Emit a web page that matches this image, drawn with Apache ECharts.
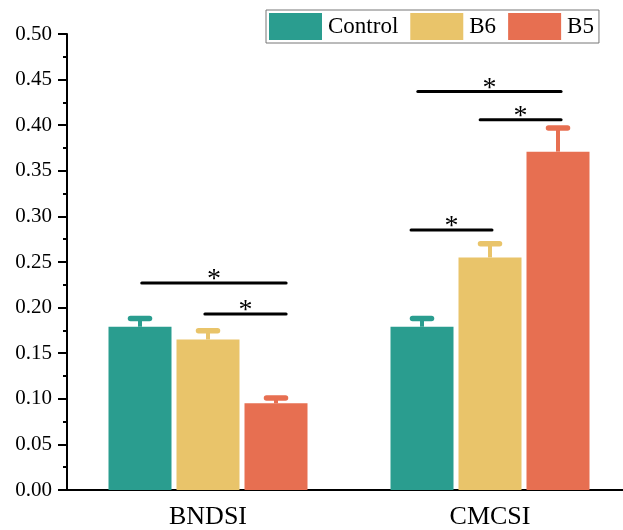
<!DOCTYPE html>
<html>
<head>
<meta charset="utf-8">
<script src="https://cdn.jsdelivr.net/npm/echarts@6/dist/echarts.min.js"></script>
<style>html,body{margin:0;padding:0;background:#fff;overflow:hidden;width:623px;height:530px;}#c{width:640px;height:530px;}</style>
</head>
<body>
<div id="c"></div>
<script>
const categories = ['BNDSI', 'CMCSI'];
const seriesNames = ['Control', 'B6', 'B5'];
const controlValues = [0.179, 0.179];
const b6Values = [0.165, 0.255];
const b5Values = [0.095, 0.371];
const controlErr = [0.009, 0.009];
const b6Err = [0.0095, 0.015];
const b5Err = [0.006, 0.026];
// significance brackets: [xStart, xEnd, y] in category-axis units (0..2)
const sigBrackets = [
  [0.265, 0.777, 0.227],
  [0.489, 0.777, 0.193],
  [1.220, 1.507, 0.285],
  [1.244, 1.752, 0.437],
  [1.465, 1.752, 0.406]
];
const sigLabel = '*';

const colors = ['#2A9D8F', '#E9C46A', '#E76F51'];
const FONT = 'Liberation Serif';
const BAR_W = 63, BAR_GAP = 5;

const values = [controlValues, b6Values, b5Values];
const errs = [controlErr, b6Err, b5Err];

const series = [];
seriesNames.forEach((name, s) => {
  series.push({
    name: name, type: 'bar', data: values[s],
    barWidth: BAR_W, barGap: (BAR_GAP / BAR_W * 100) + '%',
    itemStyle: { color: colors[s] }, z: 2
  });
});
seriesNames.forEach((name, s) => {
  const offset = (s - 1) * (BAR_W + BAR_GAP);
  series.push({
    type: 'custom', name: name + '_err', z: 3,
    data: values[s].map((v, i) => [i, v, errs[s][i]]),
    encode: { x: 0, y: 1 },
    renderItem: function (params, api) {
      const idx = api.value(0), v = api.value(1), e = api.value(2);
      const base = api.coord([idx, v]);
      const top = api.coord([idx, v + e]);
      const x = base[0] + offset;
      return {
        type: 'group', children: [
          { type: 'line', shape: { x1: x, y1: base[1], x2: x, y2: top[1] }, style: { stroke: colors[s], lineWidth: 4 } },
          { type: 'line', shape: { x1: x - 9.5, y1: top[1], x2: x + 9.5, y2: top[1] }, style: { stroke: colors[s], lineWidth: 5.5, lineCap: 'round' } }
        ]
      };
    }
  });
});
series.push({
  type: 'custom', name: 'sig', xAxisIndex: 1, z: 4,
  data: sigBrackets,
  encode: { x: [0, 1], y: 2 },
  renderItem: function (params, api) {
    const p1 = api.coord([api.value(0), api.value(2)]);
    const p2 = api.coord([api.value(1), api.value(2)]);
    return {
      type: 'group', children: [
        { type: 'line', shape: { x1: p1[0], y1: p1[1], x2: p2[0], y2: p2[1] }, style: { stroke: '#000', lineWidth: 3, lineCap: 'round' } },
        { type: 'text', x: (p1[0] + p2[0]) / 2, y: p1[1] - 3, style: { text: sigLabel, fill: '#000', font: '28px "' + FONT + '"', align: 'center', verticalAlign: 'middle' } }
      ]
    };
  }
});

const chart = echarts.init(document.getElementById('c'));
chart.setOption({
  animation: false,
  backgroundColor: '#fff',
  legend: {
    data: seriesNames, left: 266, top: 10, orient: 'horizontal',
    itemWidth: 53, itemHeight: 27, itemGap: 12,
    padding: [3, 5, 3, 3], borderColor: '#777', borderWidth: 1,
    icon: 'rect',
    textStyle: { fontFamily: FONT, fontSize: 23, color: '#000', padding: [0, 0, 0, 1] }
  },
  grid: { left: 67, top: 34, width: 564, height: 456 },
  xAxis: [{
    type: 'category', data: categories,
    axisLine: { lineStyle: { color: '#000', width: 2 } },
    axisTick: { alignWithLabel: true, length: 7, lineStyle: { color: '#000', width: 2 } },
    axisLabel: { fontFamily: FONT, fontSize: 26, color: '#000', margin: 14 }
  }, {
    type: 'value', min: 0, max: 2, show: false
  }],
  yAxis: {
    type: 'value', min: 0, max: 0.5, interval: 0.05,
    axisLine: { show: true, lineStyle: { color: '#000', width: 2 } },
    axisTick: { show: true, inside: false, length: 9, lineStyle: { color: '#000', width: 2 } },
    minorTick: { show: true, splitNumber: 2, length: 4, lineStyle: { color: '#000', width: 2 } },
    splitLine: { show: false },
    axisLabel: { fontFamily: FONT, fontSize: 21, color: '#000', margin: 15, formatter: v => v.toFixed(2) }
  },
  series: series
});
</script>
</body>
</html>
